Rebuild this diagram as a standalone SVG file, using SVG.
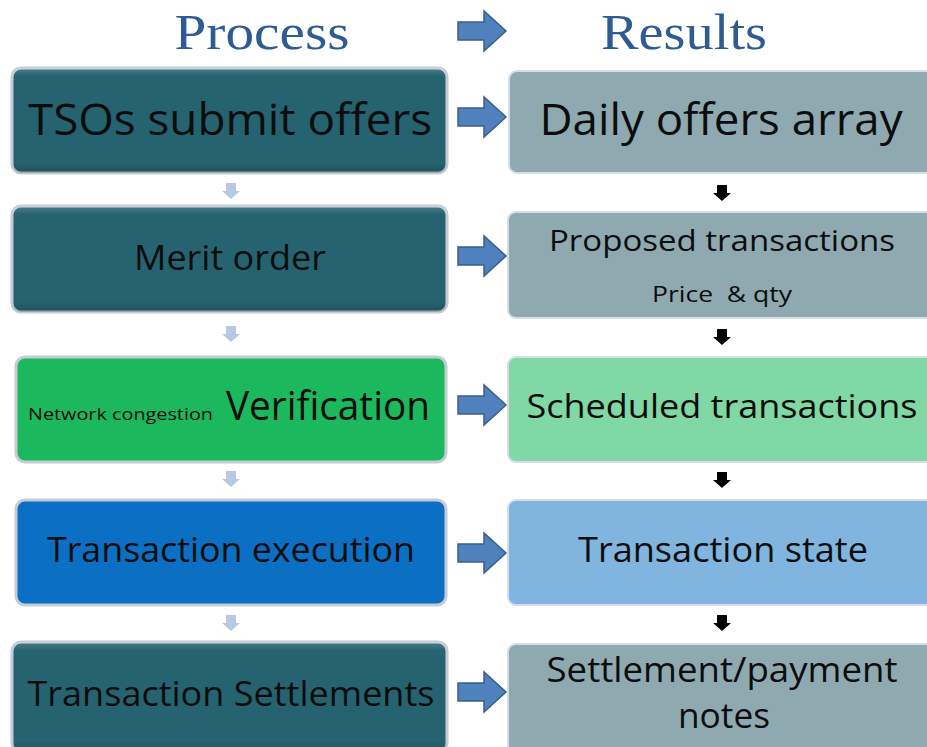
<svg xmlns="http://www.w3.org/2000/svg" width="927" height="747" viewBox="0 0 927 747">
  <defs>
    <style>
      .title { font-family: "Liberation Serif", serif; font-size: 50px; fill: #2f5b93; }
      .lbl { font-family: "Open Sans", "Liberation Sans", sans-serif; fill: #0d0d0d; }
      .proc { stroke: #c4ccd6; stroke-width: 3; }
      .res { stroke: #d6dcea; stroke-width: 2; }
      .teal { fill: #266370; }
      .grey { fill: #8eaab0; }
      .flow { fill: #4f81bd; stroke: #385d8a; stroke-width: 1.5; }
      .down { fill: #b8c8e2; }
      .downk { fill: #000; }
    </style>
    <linearGradient id="bevel" x1="0" y1="0" x2="0" y2="1">
      <stop offset="0" stop-color="#ffffff" stop-opacity="0.18"/>
      <stop offset="0.08" stop-color="#ffffff" stop-opacity="0"/>
      <stop offset="0.9" stop-color="#000000" stop-opacity="0"/>
      <stop offset="1" stop-color="#000000" stop-opacity="0.2"/>
    </linearGradient>
    <!-- block arrow pointing right, origin at left-centre -->
    <path id="rarrow" d="M0,-9 L26,-9 L26,-20 L48,0 L26,20 L26,9 L0,9 Z"/>
    <!-- small down arrow, origin at top-centre -->
    <path id="darrow" d="M-5,0 L5,0 L5,8 L9,8 L0,16 L-9,8 L-5,8 Z"/>
  </defs>

  <!-- column headings -->
  <g id="headings">
    <text class="title" x="262" y="49" text-anchor="middle" textLength="175" lengthAdjust="spacingAndGlyphs">Process</text>
    <text class="title" x="684" y="49" text-anchor="middle" textLength="166" lengthAdjust="spacingAndGlyphs">Results</text>
    <use href="#rarrow" class="flow" x="458" y="31"/>
  </g>

  <!-- process column -->
  <g id="p1">
    <rect class="proc teal" x="12" y="68" width="435" height="105" rx="9"/>
    <rect x="12" y="68" width="435" height="105" rx="9" fill="url(#bevel)"/>
    <text class="lbl" x="230" y="135" text-anchor="middle" font-size="44" textLength="404" lengthAdjust="spacingAndGlyphs">TSOs submit offers</text>
  </g>
  <g id="p2">
    <rect class="proc teal" x="12" y="206" width="435" height="106" rx="9"/>
    <rect x="12" y="206" width="435" height="106" rx="9" fill="url(#bevel)"/>
    <text class="lbl" x="230" y="270" text-anchor="middle" font-size="34" textLength="192" lengthAdjust="spacingAndGlyphs">Merit order</text>
  </g>
  <g id="p3">
    <rect class="proc" x="16" y="357" width="430" height="105" rx="9" fill="#1cb85d" stroke="#d2dbe8"/>
    <text class="lbl" x="28" y="420" font-size="17" textLength="185" lengthAdjust="spacingAndGlyphs">Network congestion</text>
    <text class="lbl" x="226" y="420" font-size="40" textLength="204" lengthAdjust="spacingAndGlyphs">Verification</text>
  </g>
  <g id="p4">
    <rect class="proc" x="16" y="500" width="430" height="105" rx="9" fill="#0b6fc3" stroke="#d2dbe8"/>
    <text class="lbl" x="231" y="562" text-anchor="middle" font-size="34" textLength="368" lengthAdjust="spacingAndGlyphs">Transaction execution</text>
  </g>
  <g id="p5">
    <rect class="proc teal" x="12" y="642" width="435" height="110" rx="9"/>
    <rect x="12" y="642" width="435" height="110" rx="9" fill="url(#bevel)"/>
    <text class="lbl" x="231" y="706" text-anchor="middle" font-size="34" textLength="407" lengthAdjust="spacingAndGlyphs">Transaction Settlements</text>
  </g>

  <!-- results column -->
  <g id="r1">
    <rect class="res grey" x="509" y="71" width="430" height="102" rx="8"/>
    <text class="lbl" x="721" y="135" text-anchor="middle" font-size="44" textLength="363" lengthAdjust="spacingAndGlyphs">Daily offers array</text>
  </g>
  <g id="r2">
    <rect class="res grey" x="508" y="212" width="430" height="106" rx="8"/>
    <text class="lbl" x="722" y="251" text-anchor="middle" font-size="30" textLength="346" lengthAdjust="spacingAndGlyphs">Proposed transactions</text>
    <text class="lbl" x="722" y="302" text-anchor="middle" font-size="21" textLength="140" lengthAdjust="spacingAndGlyphs" xml:space="preserve">Price  &amp; qty</text>
  </g>
  <g id="r3">
    <rect class="res" x="508" y="357" width="430" height="105" rx="8" fill="#80d8a4"/>
    <text class="lbl" x="722" y="418" text-anchor="middle" font-size="32" textLength="391" lengthAdjust="spacingAndGlyphs">Scheduled transactions</text>
  </g>
  <g id="r4">
    <rect class="res" x="508" y="500" width="430" height="105" rx="8" fill="#7fb5de"/>
    <text class="lbl" x="723" y="562" text-anchor="middle" font-size="34" textLength="290" lengthAdjust="spacingAndGlyphs">Transaction state</text>
  </g>
  <g id="r5">
    <rect class="res grey" x="508" y="644" width="430" height="110" rx="8"/>
    <text class="lbl" x="722" y="682" text-anchor="middle" font-size="34" textLength="351" lengthAdjust="spacingAndGlyphs">Settlement/payment</text>
    <text class="lbl" x="724" y="728" text-anchor="middle" font-size="34" textLength="92" lengthAdjust="spacingAndGlyphs">notes</text>
  </g>

  <!-- connectors -->
  <g id="connectors">
    <use href="#rarrow" class="flow" x="458" y="117"/>
    <use href="#rarrow" class="flow" x="458" y="256"/>
    <use href="#rarrow" class="flow" x="458" y="405"/>
    <use href="#rarrow" class="flow" x="458" y="553"/>
    <use href="#rarrow" class="flow" x="458" y="692"/>

    <use href="#darrow" class="down" x="231" y="183"/>
    <use href="#darrow" class="down" x="231" y="326"/>
    <use href="#darrow" class="down" x="231" y="471"/>
    <use href="#darrow" class="down" x="231" y="615"/>

    <use href="#darrow" class="downk" x="722" y="185"/>
    <use href="#darrow" class="downk" x="722" y="329"/>
    <use href="#darrow" class="downk" x="722" y="472"/>
    <use href="#darrow" class="downk" x="722" y="615"/>
  </g>
</svg>
